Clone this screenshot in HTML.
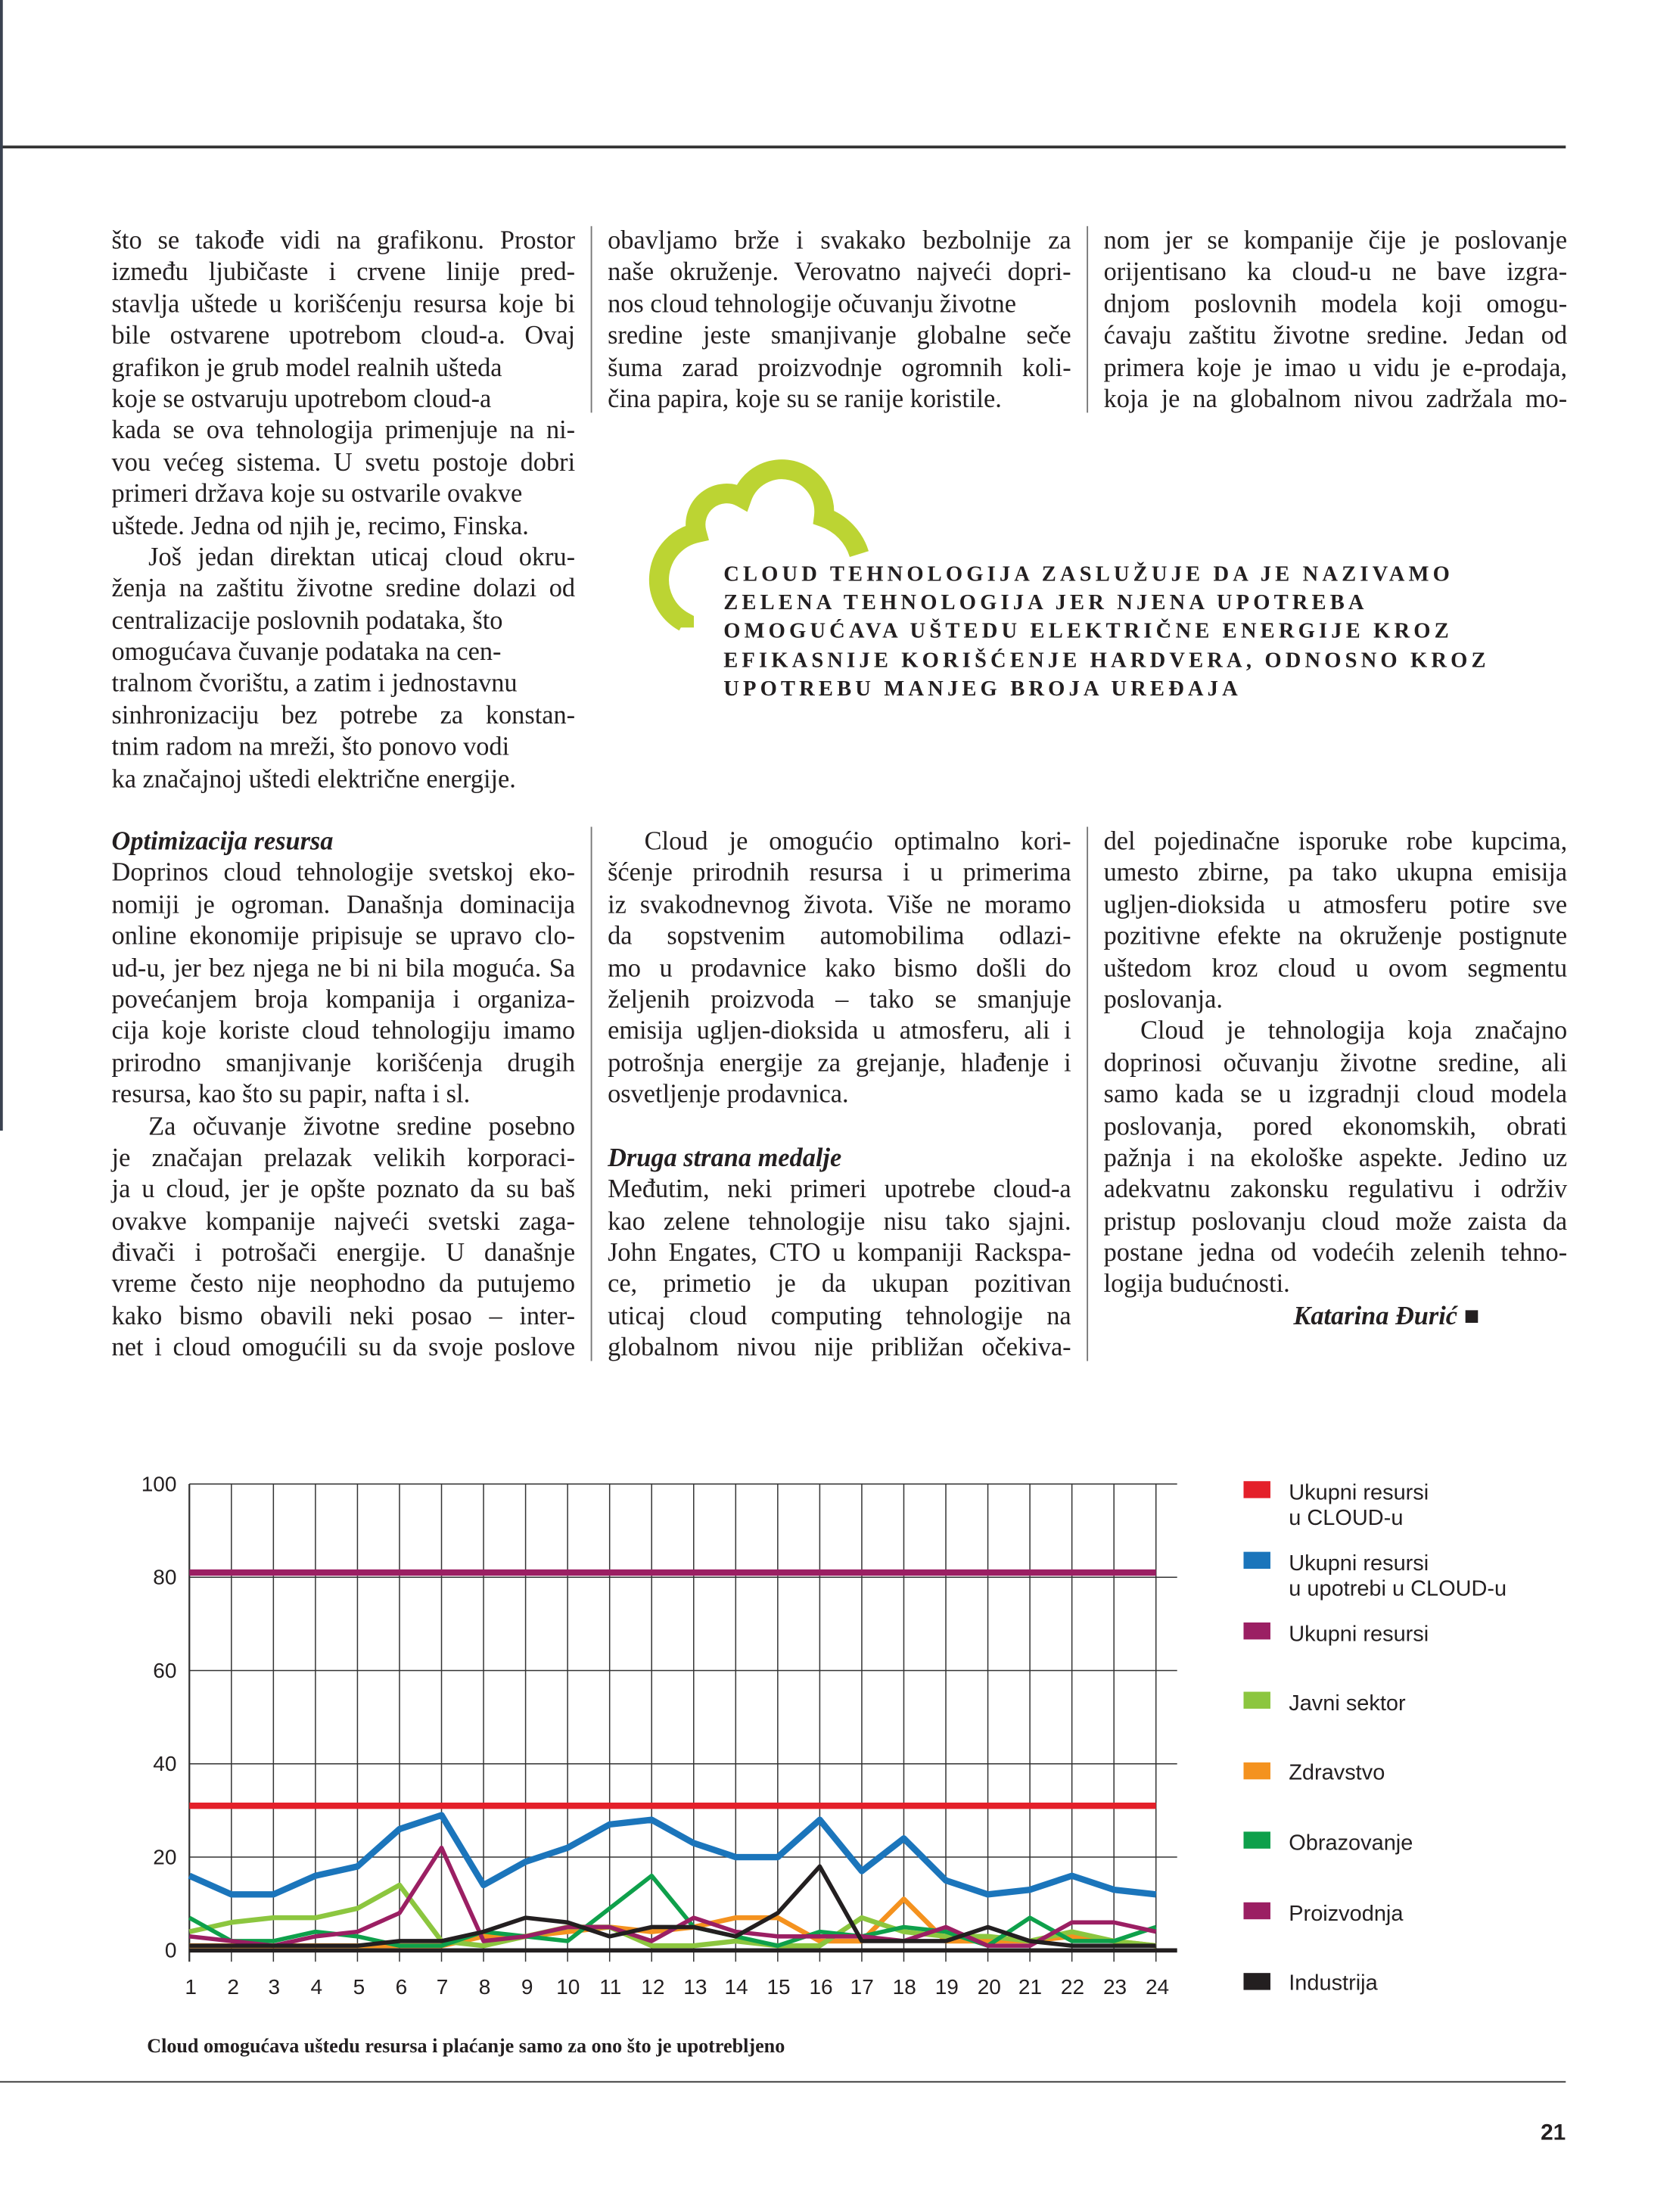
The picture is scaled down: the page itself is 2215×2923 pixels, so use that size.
<!DOCTYPE html>
<html><head><meta charset="utf-8">
<style>
html,body{margin:0;padding:0;background:#fff;}
#wrap{position:relative;width:2215px;height:2923px;overflow:hidden;background:#fff;}
#pg{position:absolute;left:0;top:0;width:1186px;height:1565px;transform:scale(1.8676);transform-origin:0 0;}
.col{position:absolute;width:328px;font-family:"Liberation Serif",serif;font-size:18.4px;line-height:22.4px;color:#231f20;letter-spacing:0px;}
.col div{white-space:nowrap;height:22.4px;}
.j{text-align:justify;text-align-last:justify;}
.ind{text-indent:26px;}
.h{font-weight:bold;font-style:italic;}
.q{position:absolute;left:512px;top:397px;font-family:"Liberation Serif",serif;font-weight:bold;font-size:15.3px;line-height:20.2px;letter-spacing:2.75px;color:#231f20;white-space:nowrap;}
.sep{position:absolute;width:1px;background:#777;}
</style></head><body><div id="wrap"><div id="pg">
<div style="position:absolute;left:0;top:103px;width:1108px;height:1.6px;background:#333;"></div>
<div style="position:absolute;left:0;top:0;width:1.5px;height:800px;background:#3a4250;"></div>
<div class="sep" style="left:418px;top:160px;height:132px;"></div>
<div class="sep" style="left:769px;top:160px;height:132px;"></div>
<div class="sep" style="left:418px;top:585px;height:378px;"></div>
<div class="sep" style="left:769px;top:585px;height:378px;"></div>

<div class="col" style="left:79px;top:159px;">
<div class="j">što se takođe vidi na grafikonu. Prostor</div>
<div class="j">između ljubičaste i crvene linije pred-</div>
<div class="j">stavlja uštede u korišćenju resursa koje bi</div>
<div class="j">bile ostvarene upotrebom cloud-a. Ovaj</div>
<div>grafikon je grub model realnih ušteda</div>
<div>koje se ostvaruju upotrebom cloud-a</div>
<div class="j">kada se ova tehnologija primenjuje na ni-</div>
<div class="j">vou većeg sistema. U svetu postoje dobri</div>
<div>primeri država koje su ostvarile ovakve</div>
<div>uštede. Jedna od njih je, recimo, Finska.</div>
<div class="j ind">Još jedan direktan uticaj cloud okru-</div>
<div class="j">ženja na zaštitu životne sredine dolazi od</div>
<div>centralizacije poslovnih podataka, što</div>
<div>omogućava čuvanje podataka na cen-</div>
<div>tralnom čvorištu, a zatim i jednostavnu</div>
<div class="j">sinhronizaciju bez potrebe za konstan-</div>
<div>tnim radom na mreži, što ponovo vodi</div>
<div>ka značajnoj uštedi električne energije.</div>
</div>
<div class="col" style="left:430px;top:159px;">
<div class="j">obavljamo brže i svakako bezbolnije za</div>
<div class="j">naše okruženje. Verovatno najveći dopri-</div>
<div>nos cloud tehnologije očuvanju životne</div>
<div class="j">sredine jeste smanjivanje globalne seče</div>
<div class="j">šuma zarad proizvodnje ogromnih koli-</div>
<div>čina papira, koje su se ranije koristile.</div>
</div>
<div class="col" style="left:781px;top:159px;">
<div class="j">nom jer se kompanije čije je poslovanje</div>
<div class="j">orijentisano ka cloud-u ne bave izgra-</div>
<div class="j">dnjom poslovnih modela koji omogu-</div>
<div class="j">ćavaju zaštitu životne sredine. Jedan od</div>
<div class="j">primera koje je imao u vidu je e-prodaja,</div>
<div class="j">koja je na globalnom nivou zadržala mo-</div>
</div>

<svg style="position:absolute;left:0;top:0" width="1186" height="600">
<path d="M 484 444 L 484 440 A 34 34 0 0 1 493 377 A 22 22 0 0 1 525 352 A 30 30 0 0 1 583 366 A 40 40 0 0 1 608 392" fill="none" stroke="#bcd433" stroke-width="14"/>
</svg>
<div class="q">CLOUD TEHNOLOGIJA ZASLUŽUJE DA JE NAZIVAMO<br>ZELENA TEHNOLOGIJA JER NJENA UPOTREBA<br>OMOGUĆAVA UŠTEDU ELEKTRIČNE ENERGIJE KROZ<br>EFIKASNIJE KORIŠĆENJE HARDVERA, ODNOSNO KROZ<br>UPOTREBU MANJEG BROJA UREĐAJA</div>

<div class="col" style="left:79px;top:584px;">
<div class="h">Optimizacija resursa</div>
<div class="j">Doprinos cloud tehnologije svetskoj eko-</div>
<div class="j">nomiji je ogroman. Današnja dominacija</div>
<div class="j">online ekonomije pripisuje se upravo clo-</div>
<div class="j">ud-u, jer bez njega ne bi ni bila moguća. Sa</div>
<div class="j">povećanjem broja kompanija i organiza-</div>
<div class="j">cija koje koriste cloud tehnologiju imamo</div>
<div class="j">prirodno smanjivanje korišćenja drugih</div>
<div>resursa, kao što su papir, nafta i sl.</div>
<div class="j ind">Za očuvanje životne sredine posebno</div>
<div class="j">je značajan prelazak velikih korporaci-</div>
<div class="j">ja u cloud, jer je opšte poznato da su baš</div>
<div class="j">ovakve kompanije najveći svetski zaga-</div>
<div class="j">đivači i potrošači energije. U današnje</div>
<div class="j">vreme često nije neophodno da putujemo</div>
<div class="j">kako bismo obavili neki posao – inter-</div>
<div class="j">net i cloud omogućili su da svoje poslove</div>
</div>
<div class="col" style="left:430px;top:584px;">
<div class="j ind">Cloud je omogućio optimalno kori-</div>
<div class="j">šćenje prirodnih resursa i u primerima</div>
<div class="j">iz svakodnevnog života. Više ne moramo</div>
<div class="j">da sopstvenim automobilima odlazi-</div>
<div class="j">mo u prodavnice kako bismo došli do</div>
<div class="j">željenih proizvoda – tako se smanjuje</div>
<div class="j">emisija ugljen-dioksida u atmosferu, ali i</div>
<div class="j">potrošnja energije za grejanje, hlađenje i</div>
<div>osvetljenje prodavnica.</div>
<div></div>
<div class="h">Druga strana medalje</div>
<div class="j">Međutim, neki primeri upotrebe cloud-a</div>
<div class="j">kao zelene tehnologije nisu tako sjajni.</div>
<div class="j">John Engates, CTO u kompaniji Rackspa-</div>
<div class="j">ce, primetio je da ukupan pozitivan</div>
<div class="j">uticaj cloud computing tehnologije na</div>
<div class="j">globalnom nivou nije približan očekiva-</div>
</div>
<div class="col" style="left:781px;top:584px;">
<div class="j">del pojedinačne isporuke robe kupcima,</div>
<div class="j">umesto zbirne, pa tako ukupna emisija</div>
<div class="j">ugljen-dioksida u atmosferu potire sve</div>
<div class="j">pozitivne efekte na okruženje postignute</div>
<div class="j">uštedom kroz cloud u ovom segmentu</div>
<div>poslovanja.</div>
<div class="j ind">Cloud je tehnologija koja značajno</div>
<div class="j">doprinosi očuvanju životne sredine, ali</div>
<div class="j">samo kada se u izgradnji cloud modela</div>
<div class="j">poslovanja, pored ekonomskih, obrati</div>
<div class="j">pažnja i na ekološke aspekte. Jedino uz</div>
<div class="j">adekvatnu zakonsku regulativu i održiv</div>
<div class="j">pristup poslovanju cloud može zaista da</div>
<div class="j">postane jedna od vodećih zelenih tehno-</div>
<div>logija budućnosti.</div>
<div class="h" style="text-align:right;padding-right:62px;">Katarina Đurić <span style="font-style:normal">■</span></div>
</div>

<svg style="position:absolute;left:0;top:1000px" width="1186" height="565" viewBox="0 1000 1186 565" font-family="Liberation Sans, sans-serif">
<g stroke="#333" stroke-width="0.8">
<line x1="134" y1="1050" x2="833" y2="1050"/>
<line x1="134" y1="1116" x2="833" y2="1116"/>
<line x1="134" y1="1182" x2="833" y2="1182"/>
<line x1="134" y1="1248" x2="833" y2="1248"/>
<line x1="134" y1="1314" x2="833" y2="1314"/>
<g transform="translate(134,0)">
<line x1="0" y1="1050" x2="0" y2="1388" stroke-width="1.2"/>
<line x1="29.74" y1="1050" x2="29.74" y2="1388"/><line x1="59.48" y1="1050" x2="59.48" y2="1388"/><line x1="89.22" y1="1050" x2="89.22" y2="1388"/><line x1="118.96" y1="1050" x2="118.96" y2="1388"/><line x1="148.7" y1="1050" x2="148.7" y2="1388"/><line x1="178.44" y1="1050" x2="178.44" y2="1388"/><line x1="208.18" y1="1050" x2="208.18" y2="1388"/><line x1="237.92" y1="1050" x2="237.92" y2="1388"/><line x1="267.66" y1="1050" x2="267.66" y2="1388"/><line x1="297.4" y1="1050" x2="297.4" y2="1388"/><line x1="327.14" y1="1050" x2="327.14" y2="1388"/><line x1="356.88" y1="1050" x2="356.88" y2="1388"/><line x1="386.62" y1="1050" x2="386.62" y2="1388"/><line x1="416.36" y1="1050" x2="416.36" y2="1388"/><line x1="446.1" y1="1050" x2="446.1" y2="1388"/><line x1="475.84" y1="1050" x2="475.84" y2="1388"/><line x1="505.58" y1="1050" x2="505.58" y2="1388"/><line x1="535.32" y1="1050" x2="535.32" y2="1388"/><line x1="565.06" y1="1050" x2="565.06" y2="1388"/><line x1="594.8" y1="1050" x2="594.8" y2="1388"/><line x1="624.54" y1="1050" x2="624.54" y2="1388"/><line x1="654.28" y1="1050" x2="654.28" y2="1388"/><line x1="684.02" y1="1050" x2="684.02" y2="1388"/>
</g>
</g>
<g transform="translate(134,1380) scale(29.74,-3.3)" fill="none" stroke-linejoin="round">
<polyline vector-effect="non-scaling-stroke" stroke="#9b1f63" stroke-width="4.5" points="0,81 23,81"/>
<polyline vector-effect="non-scaling-stroke" stroke="#e4202a" stroke-width="4.5" points="0,31 23,31"/>
<polyline vector-effect="non-scaling-stroke" stroke="#f4921f" stroke-width="3.5" points="0,1 1,1 2,1 3,1 4,1 5,1 6,1 7,3 8,3 9,4 10,5 11,4 12,5 13,7 14,7 15,2 16,2 17,11 18,2 19,2 20,2 21,3 22,2 23,1"/>
<polyline vector-effect="non-scaling-stroke" stroke="#8cc63f" stroke-width="3.5" points="0,4 1,6 2,7 3,7 4,9 5,14 6,2 7,1 8,3 9,5 10,5 11,1 12,1 13,2 14,1 15,1 16,7 17,4 18,3 19,3 20,2 21,4 22,2 23,1"/>
<polyline vector-effect="non-scaling-stroke" stroke="#0ea04b" stroke-width="3" points="0,7 1,2 2,2 3,4 4,3 5,1 6,1 7,4 8,3 9,2 10,9 11,16 12,5 13,3 14,1 15,4 16,3 17,5 18,4 19,1 20,7 21,2 22,2 23,5"/>
<polyline vector-effect="non-scaling-stroke" stroke="#9b1f63" stroke-width="3" points="0,3 1,2 2,1 3,3 4,4 5,8 6,22 7,2 8,3 9,5 10,5 11,2 12,7 13,4 14,3 15,3 16,3 17,2 18,5 19,1 20,1 21,6 22,6 23,4"/>
<polyline vector-effect="non-scaling-stroke" stroke="#231f20" stroke-width="3" points="0,1 1,1 2,1 3,1 4,1 5,2 6,2 7,4 8,7 9,6 10,3 11,5 12,5 13,3 14,8 15,18 16,2 17,2 18,2 19,5 20,2 21,1 22,1 23,1"/>
<polyline vector-effect="non-scaling-stroke" stroke="#1b75bb" stroke-width="4.5" points="0,16 1,12 2,12 3,16 4,18 5,26 6,29 7,14 8,19 9,22 10,27 11,28 12,23 13,20 14,20 15,28 16,17 17,24 18,15 19,12 20,13 21,16 22,13 23,12"/>
</g>
<line x1="134" y1="1380" x2="833" y2="1380" stroke="#231f20" stroke-width="3"/>
<g font-size="15" fill="#231f20" text-anchor="end">
<text x="125" y="1055">100</text><text x="125" y="1121">80</text><text x="125" y="1187">60</text><text x="125" y="1253">40</text><text x="125" y="1319">20</text><text x="125" y="1385">0</text>
</g>
<g font-size="15" fill="#231f20" text-anchor="middle">
<text x="135" y="1411">1</text><text x="165" y="1411">2</text><text x="194" y="1411">3</text><text x="224" y="1411">4</text><text x="254" y="1411">5</text><text x="284" y="1411">6</text><text x="313" y="1411">7</text><text x="343" y="1411">8</text><text x="373" y="1411">9</text><text x="402" y="1411">10</text><text x="432" y="1411">11</text><text x="462" y="1411">12</text><text x="492" y="1411">13</text><text x="521" y="1411">14</text><text x="551" y="1411">15</text><text x="581" y="1411">16</text><text x="610" y="1411">17</text><text x="640" y="1411">18</text><text x="670" y="1411">19</text><text x="700" y="1411">20</text><text x="729" y="1411">21</text><text x="759" y="1411">22</text><text x="789" y="1411">23</text><text x="819" y="1411">24</text>
</g>
<g font-size="15.5" fill="#231f20">
<rect x="880" y="1048" width="19" height="12" fill="#e4202a"/><text x="912" y="1061">Ukupni resursi</text><text x="912" y="1079">u CLOUD-u</text>
<rect x="880" y="1098" width="19" height="12" fill="#1b75bb"/><text x="912" y="1111">Ukupni resursi</text><text x="912" y="1129">u upotrebi u CLOUD-u</text>
<rect x="880" y="1148" width="19" height="12" fill="#9b1f63"/><text x="912" y="1161">Ukupni resursi</text>
<rect x="880" y="1197" width="19" height="12" fill="#8cc63f"/><text x="912" y="1210">Javni sektor</text>
<rect x="880" y="1247" width="19" height="12" fill="#f4921f"/><text x="912" y="1259">Zdravstvo</text>
<rect x="880" y="1296" width="19" height="12" fill="#0ea04b"/><text x="912" y="1309">Obrazovanje</text>
<rect x="880" y="1346" width="19" height="12" fill="#9b1f63"/><text x="912" y="1359">Proizvodnja</text>
<rect x="880" y="1396" width="19" height="12" fill="#231f20"/><text x="912" y="1408">Industrija</text>
</g>
<text x="104" y="1452" font-family="Liberation Serif, serif" font-weight="bold" font-size="14" fill="#231f20">Cloud omogućava uštedu resursa i plaćanje samo za ono što je upotrebljeno</text>
<line x1="0" y1="1473" x2="1108" y2="1473" stroke="#555" stroke-width="1.2"/>
<text x="1108" y="1514" text-anchor="end" font-weight="bold" font-size="16" fill="#231f20">21</text>
</svg>
</div></div></body></html>
